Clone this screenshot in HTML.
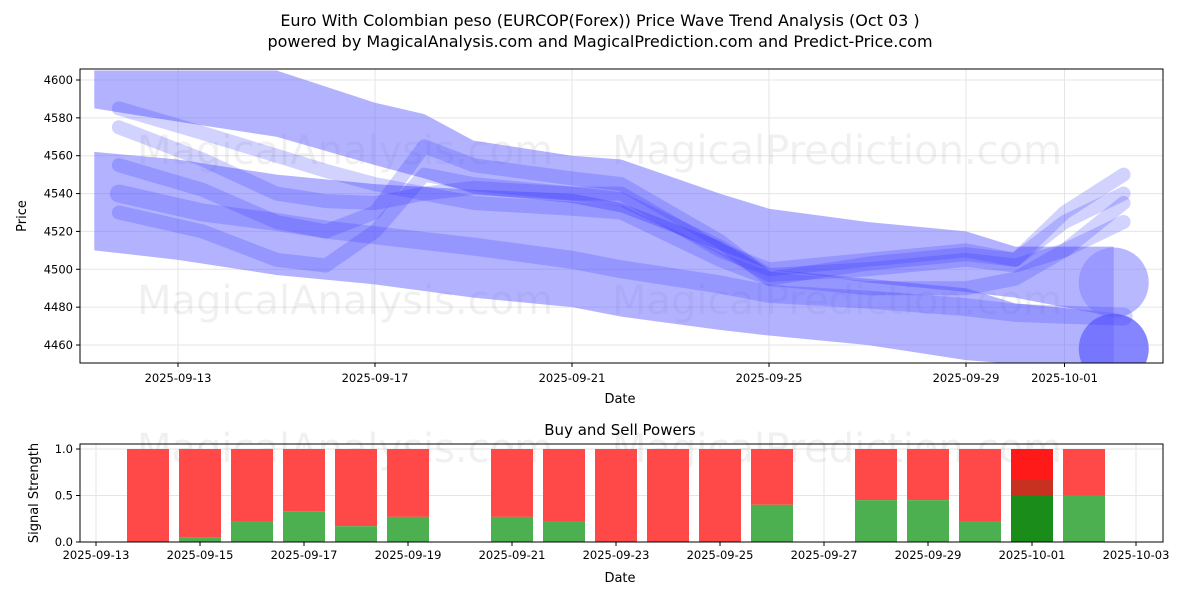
<!DOCTYPE html>
<html><head><meta charset="utf-8"><style>
body{margin:0;background:#fff;font-family:"Liberation Sans","DejaVu Sans",sans-serif}
svg text{font-family:"DejaVu Sans","Liberation Sans",sans-serif}
</style></head><body>
<svg id="chart" width="1200" height="600" xmlns="http://www.w3.org/2000/svg">
<text x="600" y="26" text-anchor="middle" font-size="16">Euro With Colombian peso (EURCOP(Forex)) Price Wave Trend Analysis (Oct 03 )</text>
<text x="600" y="47" text-anchor="middle" font-size="16">powered by MagicalAnalysis.com and MagicalPrediction.com and Predict-Price.com</text>
<g id="topg"></g><g id="botg"></g>
</svg>
<script>
// ---- data ----
const priceTicks=[4460,4480,4500,4520,4540,4560,4580,4600];
const dateTicksTop=["2025-09-13","2025-09-17","2025-09-21","2025-09-25","2025-09-29","2025-10-01"];
const dateTickDaysTop=[0,4,8,12,16,18];
const bandTopDays=[-1.7,0,2,4,5,6,8,9,11,12,14,16,17,19.0];
const bandTopUpper=[4605,4605,4605,4588,4582,4568,4560,4558,4540,4532,4525,4520,4512,4512];
const bandTopLower=[4585,4578,4570,4555,4548,4540,4535,4530,4510,4500,4493,4488,4485,4475];
const bandLowDays=[-1.7,0,2,4,6,8,9,11,12,14,16,17,19.0];
const bandLowUpper=[4562,4558,4550,4545,4542,4540,4535,4515,4500,4495,4490,4482,4477];
const bandLowLower=[4510,4505,4497,4492,4485,4480,4475,4468,4465,4460,4452,4450,4450];
const endDots=[4493,4458];
const waveDays=[-1.2,0.5,2,3,4,5,6,8,9,11,12,14,16,17,18,19.2];
const wave1=[4540,4530,4525,4521,4518,4515,4512,4505,4500,4492,4487,4484,4480,4477,4476,4475];
const wave2=[4530,4520,4505,4502,4520,4550,4545,4540,4537,4512,4497,4500,4505,4502,4510,4525];
const wave3=[4585,4572,4560,4552,4545,4540,4535,4532,4530,4505,4495,4490,4490,4495,4510,4535];
const wave4=[4575,4558,4540,4536,4535,4540,4543,4540,4540,4510,4500,4505,4510,4505,4525,4540];
const wave5=[4555,4542,4525,4520,4530,4565,4555,4548,4545,4515,4495,4503,4508,4505,4530,4550];
const barDates=["09-14","09-15","09-16","09-17","09-18","09-19","09-21","09-22","09-23","09-24","09-25","09-26","09-28","09-29","09-30","10-01","10-02"];
const barDays=[1,2,3,4,5,6,8,9,10,11,12,13,15,16,17,18,19];
const buyPower=[0,0.05,0.22,0.33,0.17,0.27,0.27,0.22,0,0,0,0.4,0.45,0.45,0.22,0.5,0.5];
const botTicks=["2025-09-13","2025-09-15","2025-09-17","2025-09-19","2025-09-21","2025-09-23","2025-09-25","2025-09-27","2025-09-29","2025-10-01","2025-10-03"];
const botTickDays=[0,2,4,6,8,10,12,14,16,18,20];
const strengthTicks=[0,0.5,1];
// ---- helpers ----
const NS="http://www.w3.org/2000/svg";
function mk(tag,attrs,parent){const e=document.createElementNS(NS,tag);for(const k in attrs)e.setAttribute(k,attrs[k]);parent.appendChild(e);return e;}
const T={l:80,r:1163,t:69,b:363};
const xT=d=>178+d*49.25;
const yT=v=>345-(v-4460)*(265/140);
const B={l:80,r:1163,t:444,b:542};
const xB=d=>96+d*52;
const yB=v=>542-v*93;
const topG=document.getElementById('topg'),botG=document.getElementById('botg');
priceTicks.forEach(v=>{
 const g=mk('line',{x1:T.l,x2:T.r,y1:yT(v),y2:yT(v),stroke:'#e5e5e5','stroke-width':1},topG);
 
 
 mk('line',{x1:T.l-4,x2:T.l,y1:yT(v),y2:yT(v),stroke:'#000'},topG);
 const t=mk('text',{x:T.l-7,y:yT(v)+4,'text-anchor':'end','font-size':11.5},topG);t.textContent=v;
 
 
});
dateTicksTop.forEach((s,i)=>{
 const x=xT(dateTickDaysTop[i]);
 mk('line',{x1:x,x2:x,y1:T.t,y2:T.b,stroke:'#e5e5e5'},topG);
 mk('line',{x1:x,x2:x,y1:T.b,y2:T.b+4,stroke:'#000'},topG);
 const t=mk('text',{x:x,y:T.b+19,'text-anchor':'middle','font-size':11.5},topG);t.textContent=s;
 
 
});
[['MagicalAnalysis.com',345,150],['MagicalPrediction.com',837,150],['MagicalAnalysis.com',345,300],['MagicalPrediction.com',837,300]].forEach(w=>{
 const t=mk('text',{x:w[1],y:w[2]+14,'text-anchor':'middle','font-size':40,fill:'#000','fill-opacity':0.06},topG);t.textContent=w[0];
 
 
});
const clip=mk('clipPath',{id:'cp'},topG);mk('rect',{x:T.l,y:T.t,width:T.r-T.l,height:T.b-T.t},clip);
const plot=mk('g',{'clip-path':'url(#cp)'},topG);
function band(days,up,lo,name){
 let pts=days.map((d,i)=>xT(d)+','+yT(up[i]));
 for(let i=days.length-1;i>=0;i--)pts.push(xT(days[i])+','+yT(lo[i]));
 const p=mk('polygon',{points:pts.join(' '),fill:'#6666ff','fill-opacity':0.5},plot);
 
 
}
band(bandTopDays,bandTopUpper,bandTopLower,'upper-wave-band');
band(bandLowDays,bandLowUpper,bandLowLower,'lower-wave-band');
endDots.forEach((v,i)=>{
 const c=mk('circle',{cx:xT(19.0),cy:yT(v),r:35,fill:i?'#6666ff':'#8888ff','fill-opacity':i?0.8:0.6},plot);
 
 
});
[wave1,wave2,wave3,wave4,wave5].forEach((w,k)=>{
 const p=mk('polyline',{points:waveDays.map((d,i)=>xT(d)+','+yT(w[i])).join(' '),fill:'none',stroke:'#3333ff','stroke-opacity':0.22,'stroke-width':k==0?18:14,'stroke-linejoin':'round','stroke-linecap':'round'},plot);
 
 
});
mk('rect',{x:T.l,y:T.t,width:T.r-T.l,height:T.b-T.t,fill:'none',stroke:'#000'},topG);
let tx=mk('text',{x:620,y:403,'text-anchor':'middle','font-size':13},topG);tx.textContent='Date';

tx=mk('text',{x:26,y:216,'text-anchor':'middle','font-size':13,transform:'rotate(-90 26 216)'},topG);tx.textContent='Price';

tx=mk('text',{x:620,y:435,'text-anchor':'middle','font-size':15},botG);tx.textContent='Buy and Sell Powers';

strengthTicks.forEach(v=>{
 mk('line',{x1:B.l,x2:B.r,y1:yB(v),y2:yB(v),stroke:'#e5e5e5'},botG);
 mk('line',{x1:B.l-4,x2:B.l,y1:yB(v),y2:yB(v),stroke:'#000'},botG);
 const s=mk('text',{x:B.l-7,y:yB(v)+4,'text-anchor':'end','font-size':11.5},botG);s.textContent=v.toFixed(1);
 
});
botTicks.forEach((s,i)=>{
 const x=xB(botTickDays[i]);
 mk('line',{x1:x,x2:x,y1:B.t,y2:B.b,stroke:'#e5e5e5'},botG);
 mk('line',{x1:x,x2:x,y1:B.b,y2:B.b+4,stroke:'#000'},botG);
 const q=mk('text',{x:x,y:B.b+17,'text-anchor':'middle','font-size':11.5},botG);q.textContent=s;
 
});
[['MagicalAnalysis.com',345],['MagicalPrediction.com',837]].forEach(w=>{
 const q=mk('text',{x:w[1],y:462,'text-anchor':'middle','font-size':40,'fill-opacity':0.06},botG);q.textContent=w[0];
 
});
barDays.forEach((d,i)=>{
 const x=xB(d)-21,b=buyPower[i],last=barDates[i]==='10-01';
 const r=mk('rect',{x:x,y:yB(1),width:42,height:yB(b)-yB(1),fill:last?'#ff1a1a':'#ff4848'},botG);
 
 
 if(last){mk('rect',{x:x,y:yB(0.67),width:42,height:yB(b)-yB(0.67),fill:'#c83020'},botG);}
 const g=mk('rect',{x:x,y:yB(b),width:42,height:yB(0)-yB(b),fill:last?'#1a8c1a':'#4caf50'},botG);
 
 
});
mk('rect',{x:B.l,y:B.t,width:B.r-B.l,height:B.b-B.t,fill:'none',stroke:'#000'},botG);
tx=mk('text',{x:620,y:582,'text-anchor':'middle','font-size':13},botG);tx.textContent='Date';

tx=mk('text',{x:38,y:493,'text-anchor':'middle','font-size':13,transform:'rotate(-90 38 493)'},botG);tx.textContent='Signal Strength';

</script>
</body></html>
